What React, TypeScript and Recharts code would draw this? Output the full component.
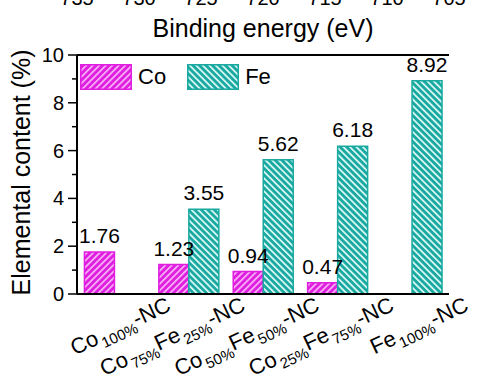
import React from 'react'
import { BarChart, Bar, XAxis, YAxis, Legend, LabelList } from 'recharts'

const categories = ['Co100%-NC', 'Co75%Fe25%-NC', 'Co50%Fe50%-NC', 'Co25%Fe75%-NC', 'Fe100%-NC']
const coValues = [1.76, 1.23, 0.94, 0.47, 0]
const feValues = [0, 3.55, 5.62, 6.18, 8.92]
const yTicks = [0, 1, 2, 3, 4, 5, 6, 7, 8, 9, 10]
const energyTicks = [735, 730, 725, 720, 715, 710, 705]
const seriesNames = ['Co', 'Fe']

const data = categories.map((name, i) => ({ name, Co: coValues[i], Fe: feValues[i] }))

const FONT = '"Liberation Sans", Arial, sans-serif'
const CO = '#e01ee0'
const CO_STRIPE = '#f8b4f8'
const FE = '#19a9a1'
const FE_STRIPE = '#e2fbf8'
const hatch: Record<string, string> = { Co: 'url(#hatchCo)', Fe: 'url(#hatchFe)' }
const edge: Record<string, string> = { Co: CO, Fe: FE }

function YTick({ x, y, payload }: any) {
  const major = payload.value % 2 === 0
  return (
    <g>
      <line x1={x - (major ? 9 : 5)} x2={x} y1={y} y2={y} stroke="#000" strokeWidth={1.5} />
      {major && (
        <text x={x - 13} y={y} dy={7} textAnchor="end" fontSize={20} fontFamily={FONT} fill="#000">
          {payload.value}
        </text>
      )}
    </g>
  )
}

// upper panel remnants: cut-off energy ticks and its axis title
function TopPanel({ viewBox }: any) {
  const lo = Math.min(...energyTicks)
  const hi = Math.max(...energyTicks)
  return (
    <g>
      {energyTicks.map(v => (
        <text key={v} x={viewBox.x + (viewBox.width * (hi - v)) / (hi - lo)} y={5} textAnchor="middle"
          fontSize={20} fontFamily={FONT} fill="#000">{v}</text>
      ))}
      <text x={viewBox.x + viewBox.width / 2} y={37} textAnchor="middle" fontSize={25}
        fontFamily={FONT} fill="#000">Binding energy (eV)</text>
    </g>
  )
}

function XTick({ x, y, payload }: any) {
  const parts = [...String(payload.value).matchAll(/([A-Z][a-z]?)(\d+%)/g)]
  return (
    <g transform={`translate(${x + 58},${y + 16}) rotate(-25)`}>
      <text x={0} y={0} textAnchor="end" fontSize={22} fontFamily={FONT} fill="#000">
        {parts.map((m, i) => (
          <React.Fragment key={i}>
            <tspan dy={i === 0 ? 0 : -6}>{m[1]}</tspan>
            <tspan fontSize={15} dx={2} dy={6}>{m[2]}</tspan>
          </React.Fragment>
        ))}
        <tspan dy={-6}>-NC</tspan>
      </text>
    </g>
  )
}

function ValueLabel({ x, y, width, value }: any) {
  if (!value) return null
  return (
    <text x={x + width / 2} y={y - 9} textAnchor="middle" fontSize={21} fontFamily={FONT} fill="#000">
      {value}
    </text>
  )
}

function LegendBox() {
  return (
    <div style={{ display: 'flex', alignItems: 'center', fontFamily: FONT, fontSize: 22, color: '#000' }}>
      {seriesNames.map(n => (
        <div key={n} style={{ display: 'flex', alignItems: 'center', marginRight: 21 }}>
          <svg width={52} height={26} style={{ display: 'block' }}>
            <rect x={0.75} y={0.75} width={50.5} height={24.5} fill={hatch[n]} stroke={edge[n]} strokeWidth={1.5} />
          </svg>
          <span style={{ marginLeft: 6 }}>{n}</span>
        </div>
      ))}
    </div>
  )
}

export default function App() {
  return (
    <div style={{ position: 'absolute', left: 0, top: 0, width: 480, height: 376, background: '#fff' }}>
      <BarChart width={480} height={376} data={data} margin={{ top: 0, right: 31, bottom: 0, left: 0 }}
        barCategoryGap="10%" barGap={0}>
        <defs>
          <pattern id="hatchCo" patternUnits="userSpaceOnUse" width={4.6} height={4.6} patternTransform="rotate(45)">
            <rect width={4.6} height={4.6} fill={CO} />
            <rect width={1.7} height={4.6} fill={CO_STRIPE} />
          </pattern>
          <pattern id="hatchFe" patternUnits="userSpaceOnUse" width={4.6} height={4.6} patternTransform="rotate(-45)">
            <rect width={4.6} height={4.6} fill={FE} />
            <rect width={1.7} height={4.6} fill={FE_STRIPE} />
          </pattern>
        </defs>
        <XAxis dataKey="name" interval={0} height={82} tickLine={false} tickSize={0} tickMargin={0}
          axisLine={{ stroke: '#000', strokeWidth: 2 }} tick={<XTick />} />
        <XAxis xAxisId="top" orientation="top" type="number" domain={[705, 735]} reversed allowDataOverflow
          ticks={energyTicks} height={55} tickLine={false} tick={false}
          axisLine={{ stroke: '#000', strokeWidth: 2 }}
          label={{ content: (p: any) => <TopPanel viewBox={p.viewBox} /> }} />
        <YAxis domain={[0, 10]} ticks={yTicks} interval={0} width={77} tickLine={false} tickSize={0} tickMargin={0}
          axisLine={{ stroke: '#000', strokeWidth: 2 }} tick={<YTick />}
          label={{
            content: (p: any) => {
              const cx = p.viewBox.x + 30
              const cy = p.viewBox.y + p.viewBox.height / 2 - 2
              return (
                <text x={cx} y={cy} textAnchor="middle" transform={`rotate(-90 ${cx} ${cy})`} fontSize={25}
                  fontFamily={FONT} fill="#000">Elemental content (%)</text>
              )
            },
          }} />
        <YAxis yAxisId="r" orientation="right" width={0} tick={false} tickLine={false}
          axisLine={{ stroke: '#000', strokeWidth: 2 }} />
        <Legend layout="horizontal" verticalAlign="middle" align="center" content={<LegendBox />}
          wrapperStyle={{ position: 'absolute', left: 80, top: 64, width: 'auto', height: 'auto' }} />
        <Bar dataKey="Co" fill="url(#hatchCo)" stroke={CO} strokeWidth={1.5} isAnimationActive={false}>
          <LabelList dataKey="Co" content={<ValueLabel />} />
        </Bar>
        <Bar dataKey="Fe" fill="url(#hatchFe)" stroke={FE} strokeWidth={1.5} isAnimationActive={false}>
          <LabelList dataKey="Fe" content={<ValueLabel />} />
        </Bar>
      </BarChart>
    </div>
  )
}
